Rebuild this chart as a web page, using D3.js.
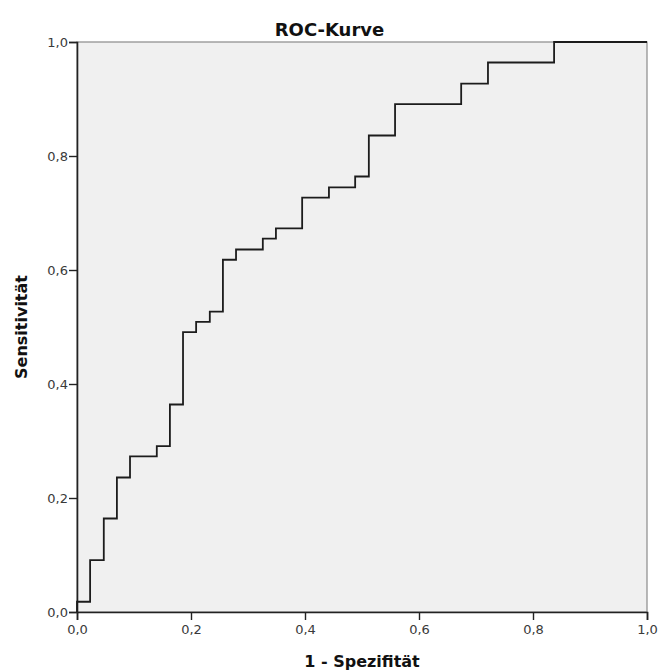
<!DOCTYPE html>
<html>
<head>
<meta charset="utf-8">
<script src="https://cdn.jsdelivr.net/npm/d3@7"></script>
<style>
  html, body { margin: 0; padding: 0; background: #ffffff; }
  svg { display: block; }
  .tick text { font-family: "DejaVu Sans", Verdana, sans-serif; font-size: 13px; fill: #3a3a3a; }
</style>
</head>
<body>
<svg id="chart" width="659" height="672"></svg>
<script>
// ROC curve corner points (1 - specificity, sensitivity)
const falsePositiveRate = [0, 0, 0.023, 0.047, 0.070, 0.093, 0.140, 0.163, 0.186, 0.209, 0.233, 0.256,
  0.279, 0.326, 0.349, 0.395, 0.442, 0.488, 0.512, 0.558, 0.674, 0.721, 0.837, 1.0];
const truePositiveRate = [0, 0.018, 0.091, 0.164, 0.236, 0.273, 0.291, 0.364, 0.491, 0.509, 0.527, 0.618,
  0.636, 0.655, 0.673, 0.727, 0.745, 0.764, 0.836, 0.891, 0.927, 0.964, 1.0, 1.0];
const tickValues = [0, 0.2, 0.4, 0.6, 0.8, 1.0];
const tickLabels = ["0,0", "0,2", "0,4", "0,6", "0,8", "1,0"];

const W = 659, H = 672;
const plot = { left: 77, right: 647, top: 42, bottom: 612 };

const svg = d3.select("#chart");
const x = d3.scaleLinear().domain([0, 1]).range([plot.left, plot.right]);
const y = d3.scaleLinear().domain([0, 1]).range([plot.bottom, plot.top]);

// plot background with light frame on top and right
svg.append("rect")
  .attr("x", plot.left).attr("y", plot.top)
  .attr("width", plot.right - plot.left).attr("height", plot.bottom - plot.top)
  .attr("fill", "#f0f0f0").attr("stroke", "#8a8a8a").attr("stroke-width", 1.2);

const fmt = d => tickLabels[tickValues.indexOf(d)];

const xAxis = svg.append("g")
  .attr("transform", `translate(0,${plot.bottom})`)
  .call(d3.axisBottom(x).tickValues(tickValues).tickFormat(fmt).tickSize(8).tickPadding(5));
const yAxis = svg.append("g")
  .attr("transform", `translate(${plot.left},0)`)
  .call(d3.axisLeft(y).tickValues(tickValues).tickFormat(fmt).tickSize(8).tickPadding(1));

[xAxis, yAxis].forEach(g => {
  g.select(".domain").attr("stroke", "#222").attr("stroke-width", 1.6);
  g.selectAll(".tick line").attr("stroke", "#222").attr("stroke-width", 1.4);
});
yAxis.selectAll(".tick text").attr("dy", "0.36em");

// step curve
const pts = falsePositiveRate.map((f, i) => [f, truePositiveRate[i]]);
svg.append("path")
  .datum(pts)
  .attr("fill", "none")
  .attr("stroke", "#1c1c1c")
  .attr("stroke-width", 1.8)
  .attr("d", d3.line().x(d => x(d[0])).y(d => y(d[1])).curve(d3.curveStepAfter));

// titles
svg.append("text")
  .attr("x", W / 2).attr("y", 36)
  .attr("text-anchor", "middle")
  .attr("font-family", "DejaVu Sans, Verdana, sans-serif")
  .attr("font-weight", "bold").attr("font-size", 18).attr("fill", "#111")
  .text("ROC-Kurve");

svg.append("text")
  .attr("x", (plot.left + plot.right) / 2).attr("y", 667)
  .attr("text-anchor", "middle")
  .attr("font-family", "DejaVu Sans, Verdana, sans-serif")
  .attr("font-weight", "bold").attr("font-size", 16).attr("fill", "#111")
  .text("1 - Spezifität");

svg.append("text")
  .attr("transform", `translate(27,${(plot.top + plot.bottom) / 2}) rotate(-90)`)
  .attr("text-anchor", "middle")
  .attr("font-family", "DejaVu Sans, Verdana, sans-serif")
  .attr("font-weight", "bold").attr("font-size", 16).attr("fill", "#111")
  .text("Sensitivität");
</script>
</body>
</html>
